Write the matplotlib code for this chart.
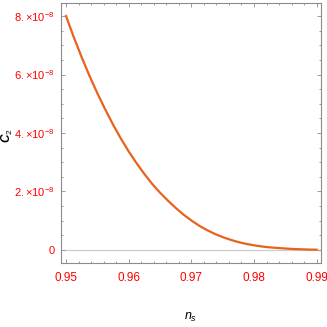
import matplotlib
matplotlib.use("Agg")
import matplotlib.pyplot as plt
from matplotlib.ticker import MultipleLocator, FixedLocator

# values (C2 in units of 1e-8)
ns = [0.95, 0.95125, 0.9525, 0.95375, 0.955, 0.95625, 0.9575, 0.95875,
      0.96, 0.96125, 0.9625, 0.96375, 0.965, 0.96625, 0.9675, 0.96875,
      0.97, 0.97125, 0.9725, 0.97375, 0.975, 0.97625, 0.9775, 0.97875,
      0.98, 0.98125, 0.9825, 0.98375, 0.985, 0.98625, 0.9875, 0.98875, 0.99]
c2 = [8.00, 7.27, 6.59, 5.95, 5.36, 4.81, 4.29, 3.81,
      3.37, 2.97, 2.60, 2.26, 1.96, 1.69, 1.44, 1.21,
      1.01, 0.83, 0.68, 0.55, 0.44, 0.35, 0.27, 0.21,
      0.16, 0.12, 0.09, 0.07, 0.05, 0.035, 0.025, 0.015, 0.01]
c2 = [v * 1e-8 for v in c2]

x_ticks = [0.95, 0.96, 0.97, 0.98, 0.99]
x_ticklabels = ["0.95", "0.96", "0.97", "0.98", "0.99"]
y_ticks = [0, 2e-8, 4e-8, 6e-8, 8e-8]
y_ticklabels = ["0", r"$2.{\times}10^{-8}$", r"$4.{\times}10^{-8}$",
                r"$6.{\times}10^{-8}$", r"$8.{\times}10^{-8}$"]

plt.rcParams['font.family'] = 'Liberation Sans'
plt.rcParams['mathtext.fontset'] = 'custom'
plt.rcParams['mathtext.rm'] = 'Liberation Sans'
plt.rcParams['mathtext.it'] = 'Liberation Sans:italic'
plt.rcParams['mathtext.bf'] = 'Liberation Sans:bold:italic'

fig = plt.figure(figsize=(3.27, 3.27), dpi=100)
ax = fig.add_axes([61/327, 1 - 263.3/327, (320.5 - 61)/327, (263.3 - 2.7)/327])

ax.axhline(0, color='#cccccc', lw=0.9, zorder=1)
ax.plot(ns, c2, color='#e8621e', lw=1.6, zorder=3)

ax.set_xlim(0.9492, 0.99061)
ax.set_ylim(-0.455e-8, 8.455e-8)

ax.xaxis.set_major_locator(FixedLocator(x_ticks))
ax.xaxis.set_minor_locator(MultipleLocator(0.002))
ax.yaxis.set_major_locator(FixedLocator(y_ticks))
ax.yaxis.set_minor_locator(MultipleLocator(0.5e-8))
ax.set_xticklabels(x_ticklabels)
ax.set_yticklabels(y_ticklabels)

for sp in ax.spines.values():
    sp.set_color('#8c8c8c')
    sp.set_linewidth(0.8)

ax.tick_params(which='both', direction='in', top=True, right=True,
               color='#9a9a9a', width=0.7)
ax.tick_params(which='major', length=3.0)
ax.tick_params(which='minor', length=1.7)
ax.tick_params(axis='x', which='major', labelsize=8.5, labelcolor='#ff0000', pad=6)
ax.tick_params(axis='y', which='major', labelsize=8, labelcolor='#ff0000', pad=4.5)

ax.set_xlabel(r"$n_s$", fontsize=9, va='center')
ax.xaxis.set_label_coords(0.5, -0.206)
ax.set_ylabel(r"$\mathbf{C}_2$", fontsize=8.5, va='center')
ax.yaxis.set_label_coords(-0.208, 0.49)

fig.savefig("out.png", dpi=100)
